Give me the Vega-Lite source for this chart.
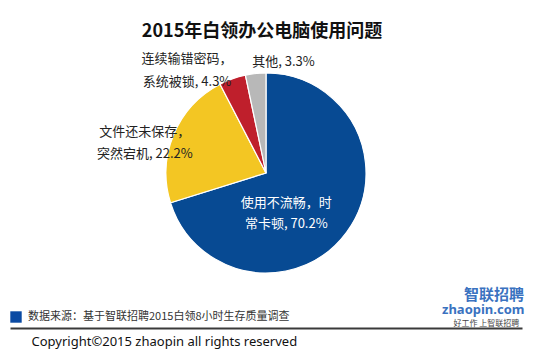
{
  "$schema": "https://vega.github.io/schema/vega-lite/v6.json",
  "autosize": "none",
  "width": 512,
  "height": 256,
  "padding": {"left": 10, "top": 45, "right": 28, "bottom": 53},
  "background": "white",
  "config": {"view": {"stroke": null}, "font": "Noto Sans CJK SC"},
  "title": {
    "text": "2015年白领办公电脑使用问题",
    "fontSize": 18,
    "fontWeight": "bold",
    "font": "Noto Sans CJK SC",
    "color": "#111111",
    "anchor": "middle",
    "offset": 4,
    "dx": -4
  },
  "data": {
    "values": [
      {"cat": "使用不流畅", "label": "使用不流畅，时\n常卡顿, 70.2%", "value": 70.2, "rank": 1},
      {"cat": "突然宕机", "label": "文件还未保存，\n突然宕机, 22.2%", "value": 22.2, "rank": 2},
      {"cat": "系统被锁", "label": "连续输错密码，\n系统被锁, 4.3%", "value": 4.3, "rank": 3},
      {"cat": "其他", "label": "其他, 3.3%", "value": 3.3, "rank": 4}
    ]
  },
  "layer": [
    {
      "mark": {"type": "arc", "outerRadius": 100, "stroke": "white", "strokeWidth": 1.2},
      "encoding": {
        "theta": {"field": "value", "type": "quantitative", "stack": true},
        "order": {"field": "rank", "type": "quantitative"},
        "color": {
          "field": "cat",
          "type": "nominal",
          "scale": {"domain": ["使用不流畅", "突然宕机", "系统被锁", "其他"], "range": ["#074a93", "#f3c623", "#bf1f2c", "#b8b8b8"]},
          "legend": null
        }
      }
    },
    {
      "mark": {"type": "text", "radius": 50, "dx": -20, "dy": 0, "fill": "white", "fontSize": 13, "lineBreak": "\n", "lineHeight": 21, "align": "center", "baseline": "middle"},
      "encoding": {
        "theta": {"field": "value", "type": "quantitative", "stack": true},
        "order": {"field": "rank", "type": "quantitative"},
        "text": {"condition": {"test": "datum.cat === '使用不流畅'", "field": "label"}, "value": ""}
      }
    },
    {
      "mark": {"type": "text", "radius": 127, "dx": -4, "dy": 8, "fill": "#222222", "fontSize": 13, "lineBreak": "\n", "lineHeight": 22, "align": "center", "baseline": "middle"},
      "encoding": {
        "theta": {"field": "value", "type": "quantitative", "stack": true},
        "order": {"field": "rank", "type": "quantitative"},
        "text": {"condition": {"test": "datum.cat === '突然宕机'", "field": "label"}, "value": ""}
      }
    },
    {
      "mark": {"type": "text", "radius": 110, "dx": -42, "dy": -10, "fill": "#222222", "fontSize": 13, "lineBreak": "\n", "lineHeight": 23, "align": "center", "baseline": "middle"},
      "encoding": {
        "theta": {"field": "value", "type": "quantitative", "stack": true},
        "order": {"field": "rank", "type": "quantitative"},
        "text": {"condition": {"test": "datum.cat === '系统被锁'", "field": "label"}, "value": ""}
      }
    },
    {
      "mark": {"type": "text", "radius": 112, "dx": 29, "dy": 0, "fill": "#222222", "fontSize": 13, "lineBreak": "\n", "align": "center", "baseline": "middle"},
      "encoding": {
        "theta": {"field": "value", "type": "quantitative", "stack": true},
        "order": {"field": "rank", "type": "quantitative"},
        "text": {"condition": {"test": "datum.cat === '其他'", "field": "label"}, "value": ""}
      }
    },
    {
      "data": {"values": [
        {"src": "数据来源：基于智联招聘2015白领8小时生存质量调查", "logo": "zhaopin.com"}
      ]},
      "mark": {"type": "point", "filled": true, "opacity": 1, "color": "#0a4aa3"},
      "encoding": {
        "x": {
          "field": "src",
          "type": "nominal",
          "axis": {
            "orient": "bottom",
            "offset": 27,
            "domainColor": "#3a3a3a",
            "domainWidth": 2,
            "labels": false,
            "ticks": false,
            "grid": false,
            "title": "Copyright©2015 zhaopin all rights reserved",
            "titleFont": "Noto Sans",
            "titleFontSize": 13,
            "titleFontWeight": "normal",
            "titleColor": "#111111",
            "titleAnchor": "start",
            "titleAlign": "left",
            "titleBaseline": "alphabetic",
            "titleX": 21,
            "titleY": 17
          }
        },
        "y": {
          "field": "src",
          "type": "nominal",
          "axis": {
            "orient": "right",
            "domain": false,
            "labels": false,
            "ticks": false,
            "grid": false,
            "title": "好工作 上智联招聘",
            "titleAngle": 0,
            "titleFont": "Noto Sans CJK SC",
            "titleFontSize": 8,
            "titleFontWeight": "normal",
            "titleColor": "#444444",
            "titleAlign": "left",
            "titleBaseline": "middle",
            "titleX": -69,
            "titleY": 278
          }
        },
        "shape": {
          "field": "src",
          "type": "nominal",
          "scale": {"range": ["square"]},
          "legend": {
            "orient": "none",
            "legendX": 0,
            "legendY": 266,
            "title": null,
            "symbolType": "square",
            "symbolSize": 130,
            "symbolStrokeWidth": 0,
            "symbolOpacity": 1,
            "labelFontSize": 11,
            "labelColor": "#333333",
            "labelFont": "Noto Sans CJK SC",
            "labelOffset": 6,
            "labelLimit": 400
          }
        },
        "size": {
          "field": "logo",
          "type": "ordinal",
          "scale": {"domain": ["zhaopin.com"], "range": [0]},
          "legend": {
            "orient": "none",
            "legendX": 432,
            "legendY": 243,
            "title": "智联招聘",
            "titleFont": "Noto Sans CJK SC",
            "titleFontSize": 15,
            "titleFontWeight": "bold",
            "titleColor": "#3a72c0",
            "titleAnchor": "end",
            "titleAlign": "right",
            "titlePadding": 7,
            "symbolOpacity": 0,
            "symbolStrokeWidth": 0,
            "labelOffset": 0,
            "labelFont": "Noto Sans",
            "labelFontSize": 13,
            "labelFontWeight": "bold",
            "labelColor": "#3a72c0",
            "labelLimit": 200
          }
        }
      }
    }
  ]
}
